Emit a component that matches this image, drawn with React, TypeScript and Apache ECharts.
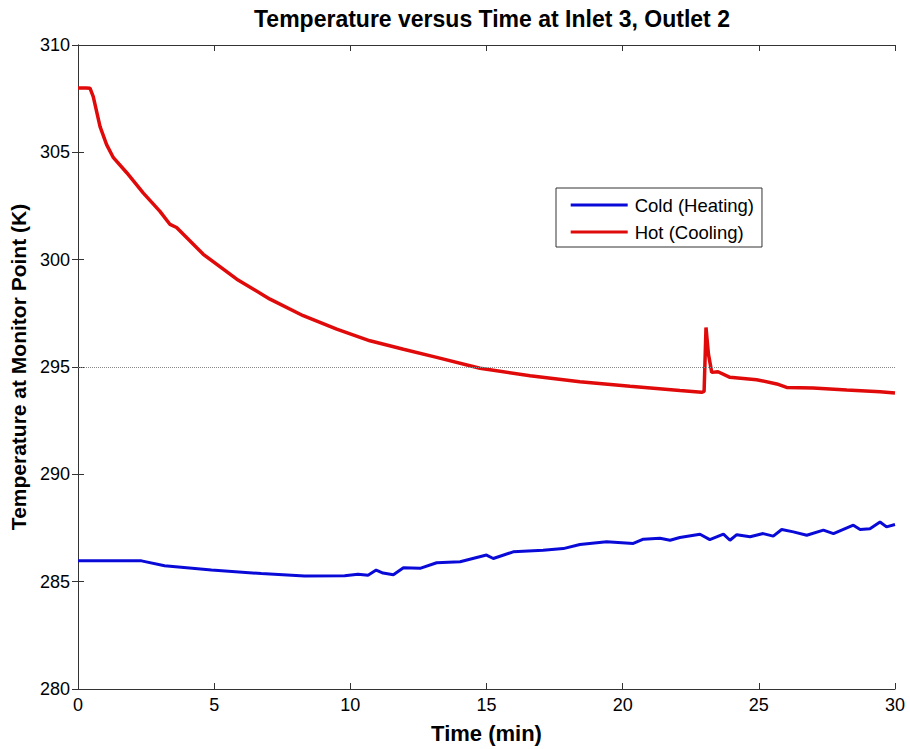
import React, { useEffect, useRef } from "react";
import * as echarts from "echarts";

const titleText = "Temperature versus Time at Inlet 3, Outlet 2";
const xAxisName = "Time (min)";
const yAxisName = "Temperature at Monitor Point (K)";
const coldName = "Cold (Heating)";
const hotName = "Hot (Cooling)";

const hotTime = [0, 0.3, 0.44, 0.56, 0.81, 1.05, 1.3, 1.79, 2.4, 3.01, 3.38, 3.62, 4.6, 5.83, 7.05, 8.27, 9.5, 10.72, 11.95, 13.17, 14.76, 16.6, 18.43, 20.27, 22.1, 22.9, 22.99, 23.06, 23.15, 23.27, 23.5, 23.94, 24.92, 25.66, 26.02, 26.99, 28.23, 29.45, 30];
const hotTemp = [308.0, 308.0, 307.99, 307.6, 306.2, 305.36, 304.75, 304.05, 303.1, 302.25, 301.64, 301.5, 300.25, 299.09, 298.16, 297.39, 296.76, 296.22, 295.83, 295.45, 294.94, 294.59, 294.31, 294.1, 293.9, 293.82, 293.86, 296.84, 295.6, 294.75, 294.78, 294.52, 294.41, 294.21, 294.05, 294.02, 293.93, 293.85, 293.79];

const coldTime = [0, 2.33, 3.18, 4.9, 6.73, 8.32, 9.79, 10.28, 10.65, 10.95, 11.2, 11.58, 11.95, 12.56, 13.17, 14.03, 15.0, 15.25, 15.98, 17.08, 17.82, 18.43, 19.41, 20.39, 20.76, 21.37, 21.74, 22.1, 22.84, 23.2, 23.7, 23.94, 24.19, 24.68, 25.16, 25.53, 25.84, 26.27, 26.76, 27.37, 27.74, 28.47, 28.72, 29.08, 29.45, 29.69, 30];
const coldTemp = [285.97, 285.97, 285.74, 285.54, 285.38, 285.26, 285.28, 285.35, 285.3, 285.54, 285.4, 285.32, 285.65, 285.62, 285.88, 285.93, 286.24, 286.08, 286.39, 286.46, 286.54, 286.73, 286.86, 286.78, 286.98, 287.02, 286.93, 287.06, 287.21, 286.96, 287.21, 286.93, 287.19, 287.09, 287.24, 287.12, 287.43, 287.32, 287.16, 287.4, 287.24, 287.63, 287.43, 287.47, 287.78, 287.55, 287.66];

const xTicks = { min: 0, max: 30, interval: 5 };
const yTicks = { min: 280, max: 310, interval: 5 };
const refLineValue = 295;

const FONT = "'Liberation Sans', Arial, Helvetica, sans-serif";

export default function App() {
  const ref = useRef<HTMLDivElement>(null);
  useEffect(() => {
    if (!ref.current) return;
    const chart = echarts.init(ref.current, undefined, { renderer: "svg" });
    const axisLine = { show: true, lineStyle: { color: "#333", width: 1 } };
    const tick = { show: true, inside: true, length: 6, lineStyle: { color: "#333", width: 1 } };
    chart.setOption({
      animation: false,
      backgroundColor: "#fff",
      textStyle: { fontFamily: FONT },
      title: {
        text: titleText,
        left: 487,
        textAlign: "center",
        top: 2,
        textStyle: { fontFamily: FONT, fontSize: 23, fontWeight: "bold", color: "#000" },
      },
      grid: { left: 78, right: 15, top: 45, bottom: 54 },
      legend: {
        orient: "vertical",
        left: 556,
        top: 188,
        data: [coldName, hotName],
        icon: "rect",
        itemWidth: 57,
        itemHeight: 3,
        itemGap: 7,
        padding: [7, 8, 5, 14.7],
        backgroundColor: "#fff",
        borderColor: "#333",
        borderWidth: 1,
        borderRadius: 0,
        textStyle: { fontFamily: FONT, fontSize: 18.5, color: "#000", lineHeight: 20, padding: [0, 0, 0, 2] },
      },
      xAxis: [
        {
          type: "value",
          min: xTicks.min,
          max: xTicks.max,
          interval: xTicks.interval,
          name: xAxisName,
          nameLocation: "middle",
          nameGap: 33,
          nameTextStyle: { fontFamily: FONT, fontSize: 22, fontWeight: "bold", color: "#000" },
          axisLine,
          axisTick: tick,
          axisLabel: { fontFamily: FONT, fontSize: 18, color: "#000", margin: 7 },
          splitLine: { show: false },
        },
        {
          type: "value",
          position: "top",
          min: xTicks.min,
          max: xTicks.max,
          interval: xTicks.interval,
          axisLine,
          axisTick: tick,
          axisLabel: { show: false },
          splitLine: { show: false },
        },
      ],
      yAxis: [
        {
          type: "value",
          min: yTicks.min,
          max: yTicks.max,
          interval: yTicks.interval,
          name: yAxisName,
          nameLocation: "middle",
          nameGap: 46,
          nameTextStyle: { fontFamily: FONT, fontSize: 21, fontWeight: "bold", color: "#000" },
          axisLine,
          axisTick: tick,
          axisLabel: { fontFamily: FONT, fontSize: 18, color: "#000", margin: 8 },
          splitLine: { show: false },
        },
        {
          type: "value",
          position: "right",
          min: yTicks.min,
          max: yTicks.max,
          interval: yTicks.interval,
          axisLine,
          axisTick: tick,
          axisLabel: { show: false },
          splitLine: { show: false },
        },
      ],
      series: [
        {
          name: coldName,
          type: "line",
          data: coldTime.map((t, i) => [t, coldTemp[i]]),
          showSymbol: false,
          symbol: "none",
          lineStyle: { color: "#0a0ad8", width: 3 },
          itemStyle: { color: "#0a0ad8" },
        },
        {
          name: hotName,
          type: "line",
          data: hotTime.map((t, i) => [t, hotTemp[i]]),
          showSymbol: false,
          symbol: "none",
          lineStyle: { color: "#e00a0a", width: 3.5 },
          itemStyle: { color: "#e00a0a" },
          z: 1,
          markLine: {
            silent: true,
            symbol: "none",
            label: { show: false },
            lineStyle: { color: "#888", type: "dotted", width: 1 },
            data: [{ yAxis: refLineValue }],
          },
        },
      ],
    });
    return () => chart.dispose();
  }, []);
  return <div ref={ref} style={{ width: 910, height: 749, position: "absolute", left: 0, top: 0 }} />;
}
